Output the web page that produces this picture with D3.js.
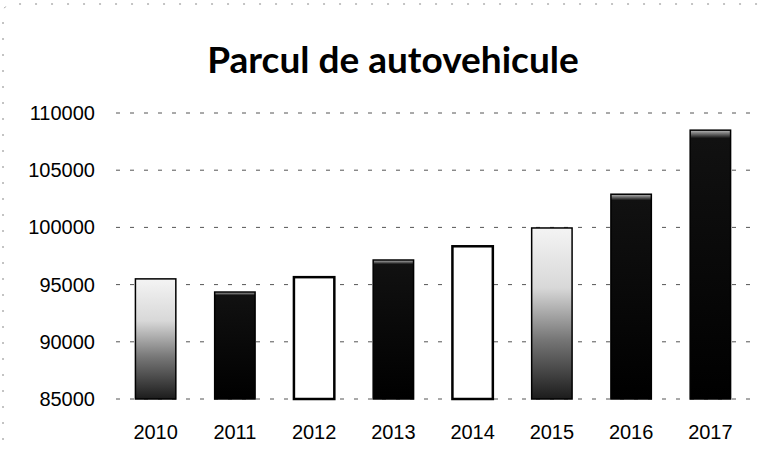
<!DOCTYPE html>
<html>
<head>
<meta charset="utf-8">
<script src="https://cdn.jsdelivr.net/npm/d3@7"></script>
<style>
  body { margin: 0; background: #fff; }
  svg { display: block; font-family: Lato, "Liberation Sans", Arial, sans-serif; }
  .grid line { stroke: #555; stroke-dasharray: 4 10; stroke-width: 1; }
  .tick text { fill: #000; }
</style>
</head>
<body>
<svg width="768" height="451"></svg>
<script>
const years  = ["2010", "2011", "2012", "2013", "2014", "2015", "2016", "2017"];
const values = [95500, 94350, 95650, 97150, 98350, 99950, 102900, 108500];
const yTicks = [85000, 90000, 95000, 100000, 105000, 110000];
const title  = "Parcul de autovehicule";

// bar look, one per year
const looks = ["fade", "dark", "open", "dark", "open", "fade", "dark", "dark"];

const svg = d3.select("svg");
const margin = {top: 113, right: 18, bottom: 52, left: 116};
const width  = 768 - margin.left - margin.right;
const height = 451 - margin.top - margin.bottom;

const defs = svg.append("defs");

const fade = defs.append("linearGradient")
  .attr("id", "fade")
  .attr("x1", 0).attr("y1", 0).attr("x2", 0).attr("y2", 1);
fade.append("stop").attr("offset", "0%").attr("stop-color", "#f4f4f4");
fade.append("stop").attr("offset", "35%").attr("stop-color", "#d8d8d8");
fade.append("stop").attr("offset", "65%").attr("stop-color", "#777");
fade.append("stop").attr("offset", "100%").attr("stop-color", "#1c1c1c");

const dark = defs.append("linearGradient")
  .attr("id", "dark")
  .attr("x1", 0).attr("y1", 0).attr("x2", 0).attr("y2", 1);
dark.append("stop").attr("offset", "0%").attr("stop-color", "#bbb");
dark.append("stop").attr("offset", "3%").attr("stop-color", "#111");
dark.append("stop").attr("offset", "100%").attr("stop-color", "#000");

// faint frame of the chart area
svg.append("path")
  .attr("d", "M3,440 L3,14 Q3,4 14,4 L764,4")
  .attr("fill", "none")
  .attr("stroke", "#888")
  .attr("stroke-dasharray", "2 14")
  .attr("stroke-width", 1);

svg.append("text")
  .attr("x", 393)
  .attr("y", 73)
  .attr("text-anchor", "middle")
  .attr("font-size", 37)
  .attr("font-weight", "bold")
  .text(title);

const g = svg.append("g").attr("transform", `translate(${margin.left},${margin.top})`);

const x = d3.scaleBand().domain(years).range([0, width]).paddingInner(0.49).paddingOuter(0.245);
const y = d3.scaleLinear().domain([85000, 110000]).range([height, 0]);

g.append("g")
  .attr("class", "grid")
  .selectAll("line")
  .data(yTicks)
  .join("line")
  .attr("x1", 0)
  .attr("x2", width)
  .attr("y1", d => y(d))
  .attr("y2", d => y(d));

const yAxis = g.append("g")
  .call(d3.axisLeft(y).tickValues(yTicks).tickFormat(d3.format("d")).tickSize(0).tickPadding(21));
yAxis.select(".domain").remove();
yAxis.selectAll("text").attr("font-size", 20);

const xAxis = g.append("g")
  .attr("transform", `translate(0,${height})`)
  .call(d3.axisBottom(x).tickSize(0).tickPadding(26));
xAxis.select(".domain").remove();
xAxis.selectAll("text").attr("font-size", 20);

g.selectAll("rect.bar")
  .data(years.map((yr, i) => ({year: yr, value: values[i], look: looks[i]})))
  .join("rect")
  .attr("class", "bar")
  .attr("x", d => x(d.year))
  .attr("width", x.bandwidth())
  .attr("y", d => y(d.value))
  .attr("height", d => height - y(d.value))
  .attr("fill", d => d.look === "open" ? "#fff" : `url(#${d.look})`)
  .attr("stroke", "#000")
  .attr("stroke-width", d => d.look === "open" ? 2.5 : 1.5);
</script>
</body>
</html>
